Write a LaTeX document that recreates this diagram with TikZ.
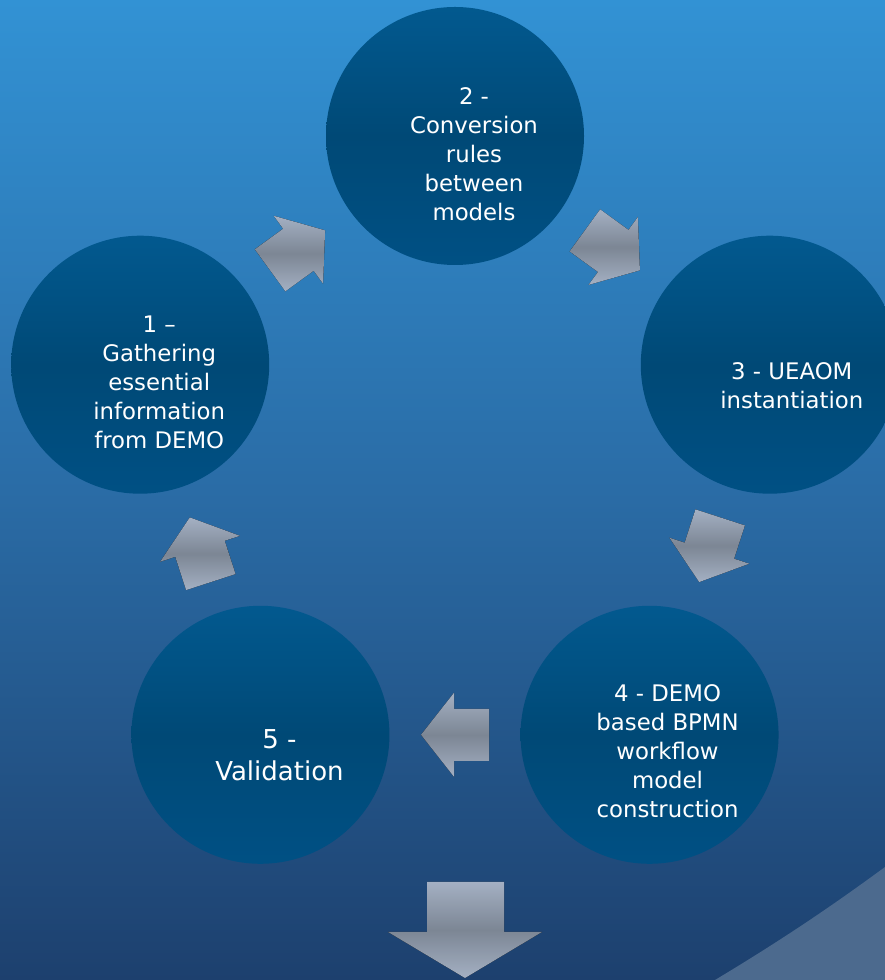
\documentclass[tikz,border=0pt]{standalone}
\usepackage{fontspec}
\setmainfont{DejaVu Sans}
\usetikzlibrary{calc}
\definecolor{cBgTop}{RGB}{50,146,212}
\definecolor{cBgMid}{RGB}{42,108,166}
\definecolor{cBgBot}{RGB}{29,64,110}
\definecolor{cSwoosh}{RGB}{76,106,142}
\definecolor{cRingTop}{RGB}{2,89,143}
\definecolor{cRingMid}{RGB}{0,73,118}
\definecolor{cRingBot}{RGB}{0,80,132}
\definecolor{cArrLight}{RGB}{164,176,195}
\definecolor{cArrDark}{RGB}{124,134,148}

% block arrow halfway between two rings, pointing from #1 to #2
\newcommand{\cyclearrow}[2]{%
  \coordinate (m#1#2) at ($(#1)!0.5!(#2)$);
  \fill[arw] ($(m#1#2)!-34pt!(#2)!26pt!90:(#2)$)
    -- ($(m#1#2)!1pt!(#2)!26pt!90:(#2)$)
    -- ($(m#1#2)!1pt!(#2)!42pt!90:(#2)$)
    -- ($(m#1#2)!34pt!(#2)$)
    -- ($(m#1#2)!1pt!(#2)!42pt!-90:(#2)$)
    -- ($(m#1#2)!1pt!(#2)!26pt!-90:(#2)$)
    -- ($(m#1#2)!-34pt!(#2)!26pt!-90:(#2)$) -- cycle;}

\begin{document}
\begin{tikzpicture}[x=1pt, y=1pt,
  ring/.style={circle, minimum size=258pt, inner sep=0pt,
    top color=cRingTop, bottom color=cRingBot, middle color=cRingMid},
  lbl/.style={text=white, align=center, inner sep=0pt,
    font=\fontsize{22.8}{29}\selectfont},
  arw/.style={top color=cArrLight, bottom color=cArrLight, middle color=cArrDark}]
\useasboundingbox (0,0) rectangle (885,980);
\clip (0,0) rectangle (885,980);
\fill[top color=cBgTop, bottom color=cBgBot, middle color=cBgMid] (0,0) rectangle (885,980);
\fill[cSwoosh] (715,0) .. controls (790,45) and (840,80) .. (885,113) -- (885,0) -- cycle;

\coordinate (o) at (455,513);
\node[ring] (c1) at ($(o)+(162:331)$) {};
\node[ring] (c2) at ($(o)+(90:331)$) {};
\node[ring] (c3) at ($(o)+(18:331)$) {};
\node[ring] (c4) at ($(o)+(-54:331)$) {};
\node[ring] (c5) at ($(o)+(-126:331)$) {};

\node[lbl] (t1) at ([shift={(19,-18)}]c1) {1 --\\Gathering\\essential\\information\\from DEMO};
\node[lbl] (t2) at ([shift={(19,-18)}]c2) {2 -\\Conversion\\rules\\between\\models};
\node[lbl] (t3) at ([shift={(22,-21)}]c3) {3 - UEAOM\\instantiation};
\node[lbl] (t4) at ([shift={(18,-16)}]c4) {4 - DEMO\\based BPMN\\workflow\\model\\construction};
\node[lbl, font=\fontsize{26}{32}\selectfont] (t5) at ([shift={(19,-20)}]c5) {5 -\\Validation};

\cyclearrow{c1}{c2}
\cyclearrow{c2}{c3}
\cyclearrow{c3}{c4}
\cyclearrow{c4}{c5}
\cyclearrow{c5}{c1}

% outgoing arrow below the cycle
\fill[arw] (427,98) -- (504,98) -- (504,48) -- (542,48) -- (465,2) -- (388,48) -- (427,48) -- cycle;
\end{tikzpicture}
\end{document}
